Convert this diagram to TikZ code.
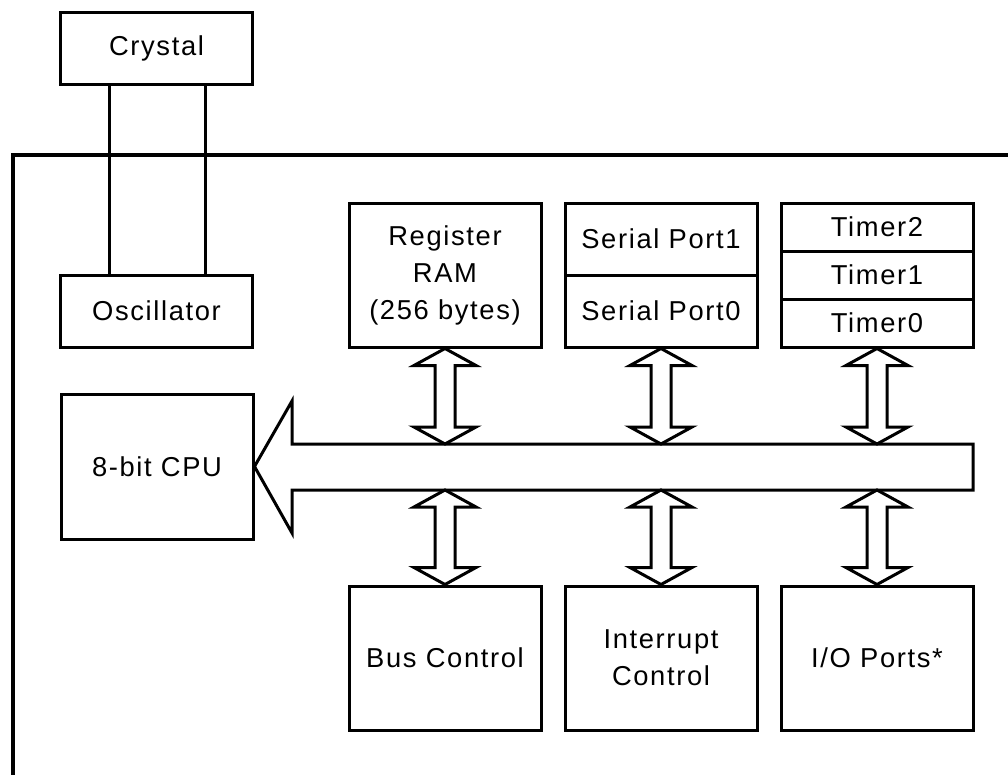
\documentclass[tikz,border=0pt]{standalone}
\usepackage{fontspec}
\setmainfont{Liberation Sans}[LetterSpace=6]
\usetikzlibrary{calc}
\newcommand\dblarrow[2]{%
  \draw[dbl] let \p1=(#1), \p2=(#2) in
    (\x1,\y1) -- (\x1+23.25pt,\y1-12.75pt) -- (\x1+7.5pt,\y1-12.75pt)
    -- (\x1+7.5pt,\y2+12.75pt) -- (\x1+23.25pt,\y2+12.75pt) -- (\x1,\y2)
    -- (\x1-23.25pt,\y2+12.75pt) -- (\x1-7.5pt,\y2+12.75pt)
    -- (\x1-7.5pt,\y1-12.75pt) -- (\x1-23.25pt,\y1-12.75pt) -- cycle;}
\begin{document}
\begin{tikzpicture}[x=0.75pt,y=-0.75pt,
  box/.style={draw, line width=2.25pt, minimum width=144pt, inner sep=0pt,
    align=center, font=\fontsize{20.5}{27.75}\selectfont},
  frame/.style={line width=3pt},
  wire/.style={line width=2.25pt},
  dbl/.style={draw, fill=white, line width=2.25pt, line join=miter},
  bus/.style={draw, fill=white, line width=2.25pt, line join=miter}]
\useasboundingbox (0,0) rectangle (1008,775);
\fill[white] (0,0) rectangle (1008,775);
% outer frame
\draw[frame] (13,790) -- (13,155) -- (1020,155);
% boxes
\node[box, minimum height=54pt] (crystal) at (156.5,48) {Crystal};
\node[box, minimum height=54pt] (osc) at (156.5,311) {Oscillator};
\node[box, minimum height=108.75pt] (cpu) at (157,466.5) {8-bit CPU};
\node[box, minimum height=108pt] (reg) at (445,275) {Register\\RAM\\(256 bytes)};
\node[box, minimum height=54pt] (sp1) at (661,239) {Serial Port1};
\node[box, minimum height=54pt] (sp0) at (661,311) {Serial Port0};
\node[box, minimum height=36pt] (t2) at (877,227) {Timer2};
\node[box, minimum height=36pt] (t1) at (877,275) {Timer1};
\node[box, minimum height=36pt] (t0) at (877,323) {Timer0};
\node[box, minimum height=108pt] (busc) at (445,658) {Bus Control};
\node[box, minimum height=108pt] (intr) at (661,658) {Interrupt\\Control};
\node[box, minimum height=108pt] (io) at (877,658) {I/O Ports*};
% crystal wires
\draw[wire] ($(crystal.south)+(-47,0)$) -- ($(osc.north)+(-47,0)$);
\draw[wire] ($(crystal.south)+(48.5,0)$) -- ($(osc.north)+(48.5,0)$);
% internal bus arrow
\coordinate (bustop) at (0,444);
\coordinate (busbot) at (0,490);
\coordinate (busend) at (973,467);
\path[bus] (busend |- bustop) -- (292,444) -- (292,401) -- (cpu.east)
  -- (292,533) -- (292,490) -- (busend |- busbot) -- cycle;
% double arrows
\dblarrow{reg.south}{reg.south |- bustop}
\dblarrow{sp0.south}{sp0.south |- bustop}
\dblarrow{t0.south}{t0.south |- bustop}
\dblarrow{busc.north |- busbot}{busc.north}
\dblarrow{intr.north |- busbot}{intr.north}
\dblarrow{io.north |- busbot}{io.north}
\end{tikzpicture}
\end{document}
